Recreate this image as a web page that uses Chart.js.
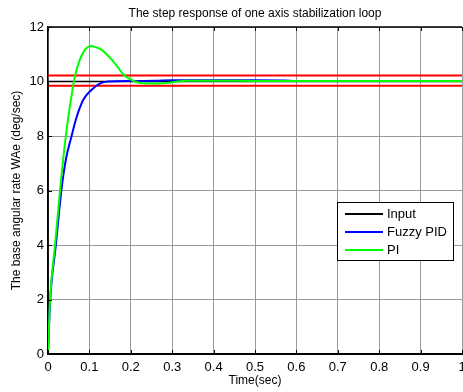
<!DOCTYPE html>
<html>
<head>
<meta charset="utf-8">
<title>Step response</title>
<script src="https://cdn.jsdelivr.net/npm/chart.js@4.4.0/dist/chart.umd.min.js"></script>
<style>
  html, body { margin: 0; padding: 0; background: #fff; }
  canvas { display: block; }
</style>
</head>
<body>
<canvas id="stepChart" width="463" height="392"></canvas>
<script>
// values (time in sec, rate in deg/sec)
const piTime  = [0, 0.005, 0.017, 0.029, 0.043, 0.055, 0.066, 0.077, 0.089, 0.097, 0.105, 0.115, 0.13, 0.154, 0.174, 0.182, 0.202, 0.22, 0.25, 0.27, 0.3, 0.335, 0.4, 0.5, 0.6, 0.7, 0.8, 0.9, 1.0];
const piValue = [0, 2.0, 4.0, 6.0, 8.0, 9.3, 10.26, 10.8, 11.16, 11.27, 11.3, 11.26, 11.16, 10.8, 10.42, 10.26, 10.06, 9.95, 9.93, 9.93, 9.97, 10.03, 10.03, 10.02, 10.02, 10.02, 10.02, 10.02, 10.02];

const fuzzyTime  = [0, 0.005, 0.019, 0.026, 0.033, 0.044, 0.057, 0.067, 0.085, 0.105, 0.126, 0.145, 0.2, 0.26, 0.3, 0.4, 0.5, 0.57, 0.6, 0.7, 0.8, 0.9, 1.0];
const fuzzyValue = [0, 1.9, 4.0, 5.1, 6.1, 7.2, 8.0, 8.59, 9.32, 9.69, 9.93, 10.0, 10.02, 10.03, 10.05, 10.05, 10.05, 10.04, 10.02, 10.02, 10.02, 10.02, 10.02];

const inputTime  = [0, 0, 1];
const inputValue = [0, 10, 10];

const bandUpper = 10.22;
const bandLower = 9.84;

const xTicks = [0, 0.1, 0.2, 0.3, 0.4, 0.5, 0.6, 0.7, 0.8, 0.9, 1];
const yTicks = [0, 2, 4, 6, 8, 10, 12];

const FONT = "'Liberation Sans', Arial, sans-serif";

function toPoints(xs, ys) {
    return xs.map((t, i) => ({ x: t, y: ys[i] }));
}

// frame, inward tick marks and the boxed legend
const framePlugin = {
    id: 'frame',
    afterDatasetsDraw(chart) {
        const { ctx, chartArea: a, scales: { x, y } } = chart;
        ctx.save();
        ctx.strokeStyle = '#000';
        ctx.lineWidth = 1.5;
        ctx.beginPath();
        ctx.moveTo(a.left, a.top);
        ctx.lineTo(a.right, a.top);
        ctx.stroke();

        ctx.lineWidth = 1;
        ctx.beginPath();
        xTicks.forEach(v => {
            const px = Math.round(x.getPixelForValue(v)) + 0.5;
            ctx.moveTo(px, a.bottom); ctx.lineTo(px, a.bottom - 4);
            ctx.moveTo(px, a.top); ctx.lineTo(px, a.top + 4);
        });
        yTicks.forEach(v => {
            const py = Math.round(y.getPixelForValue(v)) + 0.5;
            ctx.moveTo(a.left, py); ctx.lineTo(a.left + 4, py);
        });
        ctx.stroke();

        // legend
        const items = chart.data.datasets.filter(d => d.legendOrder !== undefined)
            .sort((p, q) => p.legendOrder - q.legendOrder);
        const bx = 337, by = 202, bw = 116, bh = 58;
        ctx.fillStyle = '#fff';
        ctx.fillRect(bx, by, bw, bh);
        ctx.strokeStyle = '#000';
        ctx.lineWidth = 1;
        ctx.strokeRect(bx + 0.5, by + 0.5, bw, bh);
        ctx.font = '13px ' + FONT;
        ctx.textBaseline = 'middle';
        items.forEach((d, i) => {
            const ly = by + 12 + i * 18;
            ctx.strokeStyle = d.borderColor;
            ctx.lineWidth = 2;
            ctx.beginPath();
            ctx.moveTo(bx + 8, ly);
            ctx.lineTo(bx + 46, ly);
            ctx.stroke();
            ctx.fillStyle = '#000';
            ctx.fillText(d.label, bx + 50, ly);
        });
        ctx.restore();
    }
};

const ctx = document.getElementById('stepChart').getContext('2d');
const stepChart = new Chart(ctx, {
    type: 'line',
    data: {
        datasets: [
            {
                label: 'PI',
                data: toPoints(piTime, piValue),
                borderColor: '#00ff00',
                borderWidth: 2,
                legendOrder: 2
            },
            {
                label: 'Fuzzy PID',
                data: toPoints(fuzzyTime, fuzzyValue),
                borderColor: '#0000ff',
                borderWidth: 2,
                legendOrder: 1
            },
            {
                label: 'Input',
                data: toPoints(inputTime, inputValue),
                borderColor: '#000000',
                borderWidth: 1.5,
                legendOrder: 0
            },
            {
                label: 'upper band',
                data: toPoints([0, 1], [bandUpper, bandUpper]),
                borderColor: '#ff0000',
                borderWidth: 2
            },
            {
                label: 'lower band',
                data: toPoints([0, 1], [bandLower, bandLower]),
                borderColor: '#ff0000',
                borderWidth: 2
            }
        ]
    },
    options: {
        responsive: false,
        animation: false,
        devicePixelRatio: 1,
        parsing: false,
        elements: {
            point: { radius: 0 },
            line: { cubicInterpolationMode: 'monotone', fill: false }
        },
        layout: { padding: { left: 0, right: 1, top: 0, bottom: 0 } },
        plugins: {
            legend: { display: false },
            tooltip: { enabled: false },
            title: {
                display: true,
                fullSize: false,
                text: 'The step response of one axis stabilization loop',
                color: '#000',
                font: { family: FONT, size: 12, weight: 'normal' },
                padding: { top: 6, bottom: 6.6 }
            }
        },
        scales: {
            x: {
                type: 'linear',
                min: 0,
                max: 1,
                afterBuildTicks: s => { s.ticks = xTicks.map(v => ({ value: v })); },
                afterFit: s => { s.height = 38; s.paddingRight = 0; },
                ticks: {
                    color: '#000',
                    font: { family: FONT, size: 13 },
                    padding: 6,
                    maxRotation: 0,
                    autoSkip: false,
                    callback: v => String(v)
                },
                grid: { color: '#999', drawTicks: false },
                border: { color: '#000', width: 2 },
                title: {
                    display: true,
                    text: 'Time(sec)',
                    color: '#000',
                    font: { family: FONT, size: 12 },
                    padding: { top: 0, bottom: 4 }
                }
            },
            y: {
                type: 'linear',
                min: 0,
                max: 12,
                afterBuildTicks: s => { s.ticks = yTicks.map(v => ({ value: v })); },
                afterFit: s => { s.width = 48; },
                ticks: {
                    color: '#000',
                    font: { family: FONT, size: 13 },
                    padding: 4,
                    callback: v => String(v)
                },
                grid: { color: '#999', drawTicks: false },
                border: { color: '#000', width: 1.5 },
                title: {
                    display: true,
                    text: 'The base angular rate WAe (deg/sec)',
                    color: '#000',
                    font: { family: FONT, size: 12 },
                    padding: { top: 9.5, bottom: 0 }
                }
            }
        }
    },
    plugins: [framePlugin]
});
</script>
</body>
</html>
